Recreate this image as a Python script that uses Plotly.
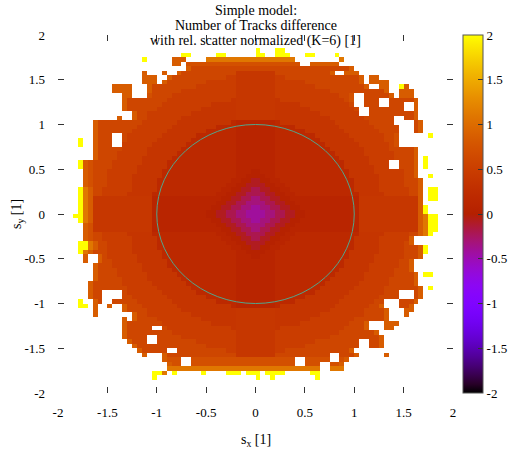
import re
import math
import plotly.graph_objects as go

# ---------------- data ----------------
# grid: 80 x 80 cells of 0.05 covering [-2, 2] x [-2, 2]
x_centers = [round(-1.975 + 0.05 * i, 3) for i in range(80)]
y_centers = [round(1.975 - 0.05 * j, 3) for j in range(80)]   # row 0 = top

# value code per cell letter (estimated from the colours)
level_values = {'a': -0.42, 'b': -0.32, 'c': -0.2, 'd': -0.08, 'e': 0.03,
                'f': 0.1, 'g': 0.18, 'h': 0.4, 'i': 0.37, 'k': 0.49, 'l': 0.6,
                'm': 0.72, 'n': 0.85, 'o': 1.1, 'Y': 2.0}

# per row: painted column ranges "a-bX" (later tokens overwrite earlier, '.' = empty)
rows_spec = [
    "", "", "",
    "40Y 44Y 45Y",
    "25Y 26Y 32Y 33Y 40Y 41Y 44Y 45Y 46Y 50Y 51Y 56Y",
    "17Y 23-25n 30-47o 57o",
    "23-24n 26-48m 51-56n",
    "26-59l 26n 59n",
    "17n 21n 24-55l 24n 55n 58-60n 36-43h",
    "17-19n 22-61l 34-45k 22n 61n 63-64n 36-43h",
    "17-19n 21-61l 30-49k 21n 61n 63-66n 36-43h",
    "11-14n 18-62l 28-51k 18n 62n 65-66n 69Y 70n 36-43h",
    "11-14n 18-66l 25-54k 18n 66n 69-71n 36-43h",
    "13-14n 18-59l 23-56k 18m 59m 62-67l 67n 69-71n 36-43h",
    "13-59l 22-57k 35-44i 13n 59m 62-64l 67-72l 72n 36-43h",
    "13-59l 21-58k 31-48i 13n 62-64l 67-69l 72n 36-43h",
    "13-60l 20-59k 29-50i 13n 63-69l 72n 36-43h",
    "15-72l 18-61k 27-52i 61-62. 15n 72n 36-43h",
    "12n 15-72l 18-61k 25-54i 68-69. 15n 72n 36-43h",
    "7-73l 17-62k 24-55i 35-44g 36-43f 68-71. 7n 73n",
    "7-73l 16-63k 23-56i 32-47g 36-43f 69-71. 7n 73n",
    "7-73l 15-64k 22-57i 30-49g 36-43f 69-71. 7n 73n",
    "7-68l 14-65k 21-58i 28-51g 36-43f 11-12. 7n 68m 75Y",
    "4Y 7-68l 14-65k 20-59i 27-52g 36-43f 11-12. 7n 68m",
    "4Y 7-68l 13-66k 19-60i 26-53g 36-43f 11-12. 7n 68m",
    "7-72l 13-66k 18-61i 25-54g 36-43f 7n 72n",
    "7-72l 12-67k 18-61i 24-55g 36-43f 7n 72n",
    "7-72l 12-67k 17-62i 23-56g 36-43f 7n 72n 74Y",
    "4Y 5-72l 11-68k 17-62i 22-57g 36-43f 67-68. 5n 6m 72n 74Y",
    "4Y 5-72l 11-68k 16-63i 22-57g 36-43f 67-68. 5n 6m 72n 74Y",
    "5-72l 10-69k 16-63i 21-58g 36-43f 39-40e 5n 6m 72n",
    "5-72l 10-69k 15-64i 21-58g 36-43f 38-41e 5n 6m 72n 75Y",
    "5-73l 10-69k 15-64i 20-59g 35-44f 37-42e 39-40d 5n 6m 73n",
    "5-73l 10-69k 15-64i 20-59g 34-45f 36-43e 38-41d 5n 6m 73n",
    "4Y 5-73l 9-70k 15-64i 20-59g 33-46f 35-44e 37-42d 39-40c 5o 6n 73n 75Y 76Y",
    "4Y 5-73l 9-70k 14-65i 19-60g 32-47f 34-45e 36-43d 38-41c 5o 6n 73n 75Y 76Y",
    "4Y 5-73l 9-70k 14-65i 19-60f 31-48f 33-46e 35-44d 37-42c 39-40b 5o 6n 73n 75Y 76Y 7-18h 61-72h",
    "4Y 5-73l 9-70k 14-65i 19-60f 32-47e 34-45d 36-43c 38-41b 5o 6n 73n 7-18h 61-72h",
    "4Y 5-73l 9-70k 14-65i 19-60f 31-48e 33-46d 35-44c 37-42b 39-40a 5o 6n 73n 74Y 7-18h 61-72h",
    "4Y 5-73l 9-70k 14-65i 19-60f 30-49e 32-47d 34-45c 36-43b 38-41a 5o 6n 73n 74Y 7-18h 61-72h",
    "3Y 4Y 5-74l 9-70k 14-65i 19-60f 30-49e 32-47d 34-45c 36-43b 38-41a 5o 6n 73n 74o 75Y 76Y 7-18h 61-72h",
    "4Y 5-74l 9-70k 14-65i 19-60f 31-48e 33-46d 35-44c 37-42b 39-40a 5o 6n 73n 74o 75Y 76Y 7-18h 61-72h",
    "5-74l 9-70k 14-65i 19-60f 32-47e 34-45d 36-43c 38-41b 5n 6m 73n 74o 75Y 76Y 7-18h 61-72h",
    "5-74l 9-70k 14-65i 19-60f 33-46e 35-44d 37-42c 39-40b 5n 6m 73n 74o 75Y 76Y 7-18h 61-72h",
    "5-74l 9-70k 14-65i 19-60g 32-47f 34-45e 36-43d 38-41c 5n 6m 73n 74o 75Y",
    "5-71l 9-70k 15-64i 20-59g 33-46f 35-44e 37-42d 39-40c 5n 6m 71n",
    "4Y 5Y 6-71l 10-69k 15-64i 20-59g 34-45f 36-43e 38-41d 6o 7n 71n",
    "4Y 5Y 6-73l 10-69k 15-64i 20-59g 35-44f 37-42e 39-40d 6o 7n 73n 74Y",
    "4Y 5-73l 10-69k 15-64i 21-58g 36-43f 38-41e 5o 6n 73n 74Y",
    "5n 8-73l 10-69k 16-63i 21-58g 36-43f 39-40e 8n 73n",
    "5n 8-71l 11-68k 16-63i 22-57g 36-43f 8n 71n",
    "7-71l 11-68k 17-62i 22-57g 36-43f 7n 71n",
    "7-71l 12-67k 17-62i 23-56g 36-43f 7n 71n",
    "7-72l 12-67k 18-61i 24-55g 36-43f 7n 72n 74Y 75Y",
    "7-72l 13-66k 18-61i 25-54g 36-43f 7n 72n",
    "6-72l 13-66k 19-60i 26-53g 36-43f 6n 72n",
    "6-73l 14-65k 20-59i 27-52g 36-43f 6n 73n 75Y",
    "6-73l 14-65k 21-58i 28-51g 36-43f 9-12. 69-71. 6n 73n",
    "6-73l 15-64k 22-57i 30-49g 36-43f 9-12. 69-71. 6n 73n",
    "4Y 7-72l 16-63k 23-56i 32-47g 36-43f 9-10. 66-68. 7n 72n",
    "4Y 5Y 7n 10n 13-65l 17-62k 24-55i 35-44g 36-43f 13n 65n 69-71l 71n",
    "7n 13-66l 18-61k 25-54i 13n 66n 70-71n 36-43h",
    "7n 15-66l 18-61k 27-52i 15n 66n 70n 36-43h",
    "13n 15-66l 20-59k 29-50i 15n 66n 36-43h",
    "13-62l 21-58k 31-48i 13n 62n 66-68n 36-43h",
    "13-62l 22-57k 35-44i 19-20. 13n 62n 66-67n 36-43h",
    "13-64l 23-56k 13n 64n 36-43h",
    "13-65l 25-54k 18-19. 13n 65n 36-43h",
    "14-65l 28-51k 18-19. 61-62. 14n 65n 36-43h",
    "15-65l 30-49k 61-62. 15n 65n 36-43h",
    "16-59l 34-45k 22-23. 16n 59n 36-43h",
    "17n 21-60l 55-56. 21n 60n 66n 36-43h",
    "21-58m 25-26. 48-49. 55-56. 21n 58n",
    "22-57m 25-26. 48-49. 53-54. 22n 57n",
    "22-57o 53-54.",
    "19Y 20Y 21o 23Y 29Y 34-36Y 38-40Y 42-45Y 51Y 52Y",
    "19Y 40Y 43Y 52Y",
    "", "", "",
]

tick_vals = [-2, -1.5, -1, -0.5, 0, 0.5, 1, 1.5, 2]
tick_text = ["-2", "-1.5", "-1", "-0.5", "0", "0.5", "1", "1.5", "2"]
title_lines = ["Simple model:", "Number of Tracks difference",
               "with rel. scatter normalized (K=6) [1]"]
circle_radius = 1.0

# ---------------- build grid ----------------
z = []
for spec in rows_spec:
    row = [None] * 80
    for a, b, ch in re.findall(r'(\d+)(?:-(\d+))?(\S)', spec):
        a = int(a)
        b = int(b) if b else a
        for c in range(a, b + 1):
            row[c] = None if ch == '.' else level_values[ch]
    z.append(row)

# gnuplot default palette (rgbformulae 7,5,15)
def gp_color(t):
    r = math.sqrt(t)
    g = t ** 3
    b = max(0.0, math.sin(2 * math.pi * t))
    return f"rgb({round(255*r)},{round(255*g)},{round(255*b)})"

colorscale = [[i / 40, gp_color(i / 40)] for i in range(41)]

FONT = "Liberation Serif, Times New Roman, serif"

fig = go.Figure()
fig.add_trace(go.Heatmap(
    x=x_centers, y=y_centers, z=z,
    zmin=-2, zmax=2, colorscale=colorscale,
    hoverongaps=False,
    colorbar=dict(
        x=(463 - 58) / 395, xanchor="left", xpad=0,
        y=0.5, yanchor="middle", ypad=0, len=1, lenmode="fraction",
        thickness=20, outlinewidth=1, outlinecolor="#555555",
        tickvals=tick_vals, ticktext=tick_text,
        ticks="inside", ticklen=5, tickcolor="#333333",
        tickfont=dict(family=FONT, size=13, color="black"),
    ),
))

fig.add_shape(type="circle", xref="x", yref="y",
              x0=-circle_radius, y0=-circle_radius,
              x1=circle_radius, y1=circle_radius,
              line=dict(color="#52a58c", width=1))

axis_common = dict(
    range=[-2, 2], tickvals=tick_vals, ticktext=tick_text,
    ticks="inside", ticklen=6, tickwidth=1, tickcolor="#333333",
    mirror="ticks", showline=False, showgrid=False, zeroline=False,
    tickfont=dict(family=FONT, size=13, color="black"),
)
fig.update_xaxes(**axis_common, ticklabelstandoff=10)
fig.update_yaxes(**axis_common, ticklabelstandoff=12)

annotations = []
for txt, py in zip(title_lines, [10, 25.5, 41]):
    annotations.append(dict(text=txt, xref="paper", yref="paper",
                            x=0.5, y=(393 - py) / 358, xanchor="center", yanchor="middle",
                            showarrow=False, font=dict(family=FONT, size=14, color="black")))
annotations.append(dict(text="s<sub>x</sub> [1]", xref="paper", yref="paper",
                        x=0.5, y=(393 - 440) / 358, xanchor="center", yanchor="middle",
                        showarrow=False, font=dict(family=FONT, size=14, color="black")))
annotations.append(dict(text="s<sub>y</sub> [1]", xref="paper", yref="paper",
                        x=(17 - 58) / 395, y=0.5, xanchor="center", yanchor="middle",
                        textangle=-90,
                        showarrow=False, font=dict(family=FONT, size=14, color="black")))

fig.update_layout(
    width=509, height=453, autosize=False,
    margin=dict(l=58, r=56, t=35, b=60, autoexpand=False),
    paper_bgcolor="white", plot_bgcolor="white",
    annotations=annotations,
    showlegend=False,
)

fig.write_html("out.html")
